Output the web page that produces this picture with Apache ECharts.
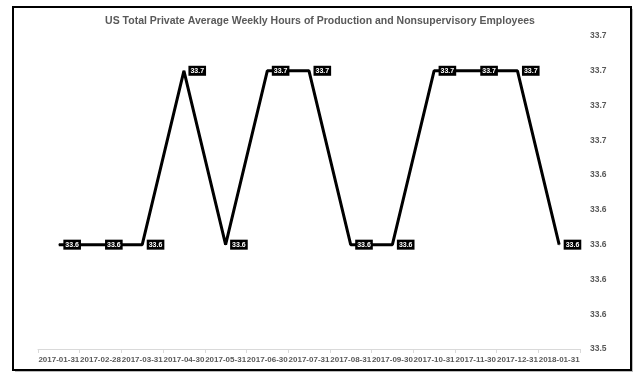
<!DOCTYPE html>
<html><head><meta charset="utf-8">
<script src="https://cdn.jsdelivr.net/npm/echarts@6/dist/echarts.min.js"></script>
<style>html,body{margin:0;padding:0;background:#fff}#c{width:640px;height:380px}</style>
</head><body><div id="c"></div>
<script>
const titleText = 'US Total Private Average Weekly Hours of Production and Nonsupervisory Employees';
const categories = ['2017-01-31','2017-02-28','2017-03-31','2017-04-30','2017-05-31','2017-06-30','2017-07-31','2017-08-31','2017-09-30','2017-10-31','2017-11-30','2017-12-31','2018-01-31'];
const hours = [33.6,33.6,33.6,33.7,33.6,33.7,33.7,33.6,33.6,33.7,33.7,33.7,33.6];
const yMin = 33.54, yMax = 33.72, yStep = 0.02;

const chart = echarts.init(document.getElementById('c'), null, {renderer:'canvas'});
const fam = '"Liberation Sans Narrow", "Liberation Sans", sans-serif';
chart.setOption({
  animation: false,
  backgroundColor: '#fff',
  title: {text: titleText, left: 'center', top: 11,
    textStyle: {fontFamily: fam, fontSize: 10.5, fontWeight: 'bold', color: '#595959'}},
  graphic: [
    {type: 'rect', shape: {x: 15, y: 9, width: 618, height: 363}, style: {fill: '#bbb'}, z: -2},
    {type: 'rect', shape: {x: 13, y: 7, width: 618, height: 363}, style: {fill: '#fff', stroke: '#000', lineWidth: 2}, z: -1}
  ],
  grid: {left: 38, right: 60, top: 36, bottom: 31},
  xAxis: {type: 'category', data: categories, boundaryGap: true,
    axisLine: {lineStyle: {color: '#d9d9d9'}},
    axisTick: {show: true, lineStyle: {color: '#d9d9d9'}, length: 4},
    axisLabel: {fontFamily: fam, fontSize: 8, fontWeight: 'bold', color: '#595959', margin: 7, interval: 0}},
  yAxis: {type: 'value', position: 'right', min: yMin, max: yMax, interval: yStep,
    splitLine: {show: false}, axisLine: {show: false}, axisTick: {show: false},
    axisLabel: {fontFamily: fam, fontSize: 8.5, fontWeight: 'bold', color: '#595959', margin: 10,
      formatter: v => v.toFixed(1)}},
  series: [{type: 'line', data: hours, symbol: 'circle', symbolSize: 1, showSymbol: true,
    lineStyle: {color: '#000', width: 3}, itemStyle: {color: '#000'},
    label: {show: true, position: 'right', distance: 4, backgroundColor: '#000', color: '#fff',
      fontFamily: fam, fontSize: 7, fontWeight: 'bold', padding: [2, 2, 1, 2],
      formatter: p => p.value.toFixed(1)}}]
});
</script></body></html>
